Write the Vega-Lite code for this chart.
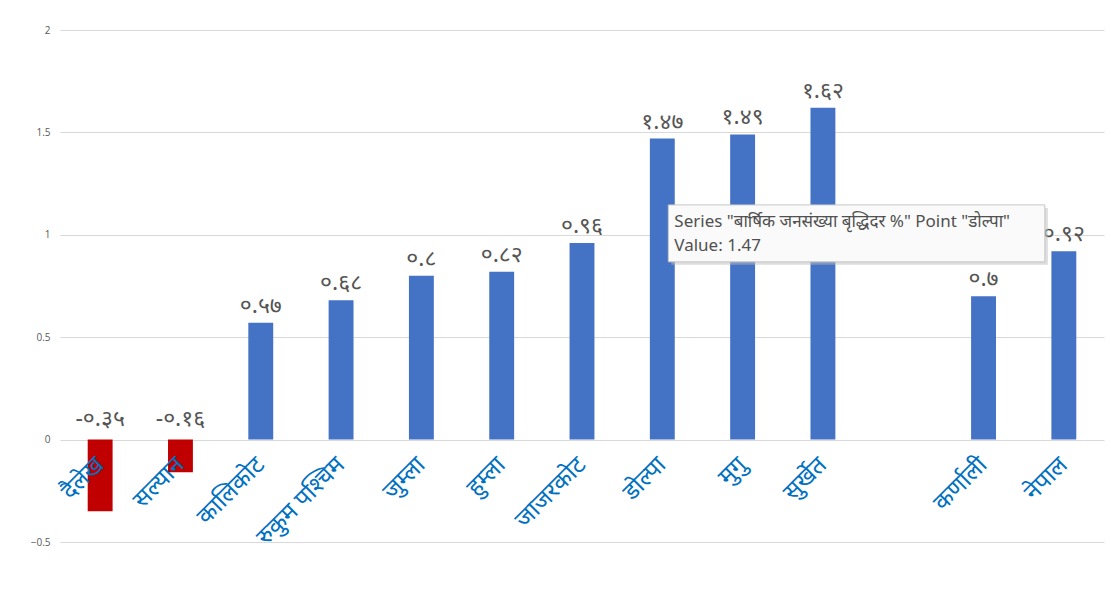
{
  "$schema": "https://vega.github.io/schema/vega-lite/v6.json",
  "autosize": "none",
  "width": 1044,
  "height": 512,
  "padding": {"left": 60, "top": 30, "right": 7, "bottom": 53},
  "background": "white",
  "config": {"view": {"stroke": null}},
  "datasets": {
    "rates": [
      {"district": "दैलेख", "value": -0.35, "label": "-०.३५"},
      {"district": "सल्यान", "value": -0.16, "label": "-०.१६"},
      {"district": "कालिकोट", "value": 0.57, "label": "०.५७"},
      {"district": "रुकुम पश्चिम", "value": 0.68, "label": "०.६८"},
      {"district": "जुम्ला", "value": 0.8, "label": "०.८"},
      {"district": "हुम्ला", "value": 0.82, "label": "०.८२"},
      {"district": "जाजरकोट", "value": 0.96, "label": "०.९६"},
      {"district": "डोल्पा", "value": 1.47, "label": "१.४७"},
      {"district": "मुगु", "value": 1.49, "label": "१.४९"},
      {"district": "सुर्खेत", "value": 1.62, "label": "१.६२"},
      {"district": "कर्णाली", "value": 0.7, "label": "०.७"},
      {"district": "नेपाल", "value": 0.92, "label": "०.९२"}
    ],
    "tip": [
      {"district": "डोल्पा", "top": 1.146, "bottom": 0.868, "end": "नेपाल", "line1": "Series \"बार्षिक जनसंख्या बृद्धिदर %\" Point \"डोल्पा\"", "line2": "Value: 1.47", "y1": 1.063, "y2": 0.943}
    ]
  },
  "data": {"name": "rates"},
  "encoding": {
    "x": {
      "field": "district",
      "type": "nominal",
      "sort": null,
      "scale": {
        "domain": ["दैलेख", "सल्यान", "कालिकोट", "रुकुम पश्चिम", "जुम्ला", "हुम्ला", "जाजरकोट", "डोल्पा", "मुगु", "सुर्खेत", " ", "कर्णाली", "नेपाल"],
        "paddingInner": 0.69,
        "paddingOuter": 0.345
      },
      "axis": {
        "title": null,
        "offset": -102,
        "zindex": 1,
        "domain": false,
        "ticks": false,
        "labelAngle": -45,
        "labelAlign": "right",
        "labelBaseline": "middle",
        "labelPadding": 21,
        "labelFontSize": 24,
        "labelColor": "#0070C0",
        "labelFont": "Noto Sans",
        "labelOverlap": false,
        "labelLimit": 300
      }
    }
  },
  "layer": [
    {
      "mark": {"type": "bar"},
      "encoding": {
        "y": {
          "field": "value",
          "type": "quantitative",
          "scale": {"domain": [-0.5, 2], "nice": false, "zero": false},
          "axis": {
            "title": null,
            "values": [-0.5, 0, 0.5, 1, 1.5, 2],
            "format": "~g",
            "domain": false,
            "ticks": false,
            "labelPadding": 10,
            "labelFontSize": 10,
            "labelColor": "#595959",
            "labelFont": "Open Sans",
            "gridColor": "#D9D9D9",
            "gridWidth": 1
          }
        },
        "color": {
          "condition": {"test": "datum.value < 0", "value": "#C00000"},
          "value": "#4472C4"
        }
      }
    },
    {
      "transform": [{"filter": "datum.value >= 0"}],
      "mark": {"type": "text", "baseline": "bottom", "dy": -5, "fontSize": 23, "color": "#555555", "font": "Noto Sans", "fontWeight": "normal"},
      "encoding": {
        "y": {"field": "value", "type": "quantitative"},
        "text": {"field": "label"}
      }
    },
    {
      "transform": [{"filter": "datum.value < 0"}],
      "mark": {"type": "text", "baseline": "bottom", "dy": -9, "fontSize": 23, "color": "#555555", "font": "Noto Sans", "fontWeight": "normal"},
      "encoding": {
        "y": {"datum": 0, "type": "quantitative"},
        "text": {"field": "label"}
      }
    },
    {
      "data": {"name": "tip"},
      "mark": {"type": "rect", "fill": "#BBBBBB", "opacity": 0.5, "xOffset": 9, "x2Offset": -16, "yOffset": 3, "y2Offset": 3},
      "encoding": {
        "x": {"field": "district", "type": "nominal"},
        "x2": {"field": "end"},
        "y": {"field": "top", "type": "quantitative"},
        "y2": {"field": "bottom"}
      }
    },
    {
      "data": {"name": "tip"},
      "mark": {"type": "rect", "fill": "#FAFAFA", "stroke": "#C6C6C6", "strokeWidth": 1, "xOffset": 6, "x2Offset": -19},
      "encoding": {
        "x": {"field": "district", "type": "nominal"},
        "x2": {"field": "end"},
        "y": {"field": "top", "type": "quantitative"},
        "y2": {"field": "bottom"}
      }
    },
    {
      "data": {"name": "tip"},
      "mark": {"type": "text", "align": "left", "baseline": "middle", "xOffset": 12, "fontSize": 17, "color": "#505050", "font": "Noto Sans"},
      "encoding": {
        "x": {"field": "district", "type": "nominal"},
        "y": {"field": "y1", "type": "quantitative"},
        "text": {"field": "line1"}
      }
    },
    {
      "data": {"name": "tip"},
      "mark": {"type": "text", "align": "left", "baseline": "middle", "xOffset": 12, "fontSize": 17, "color": "#505050", "font": "Noto Sans"},
      "encoding": {
        "x": {"field": "district", "type": "nominal"},
        "y": {"field": "y2", "type": "quantitative"},
        "text": {"field": "line2"}
      }
    }
  ]
}
